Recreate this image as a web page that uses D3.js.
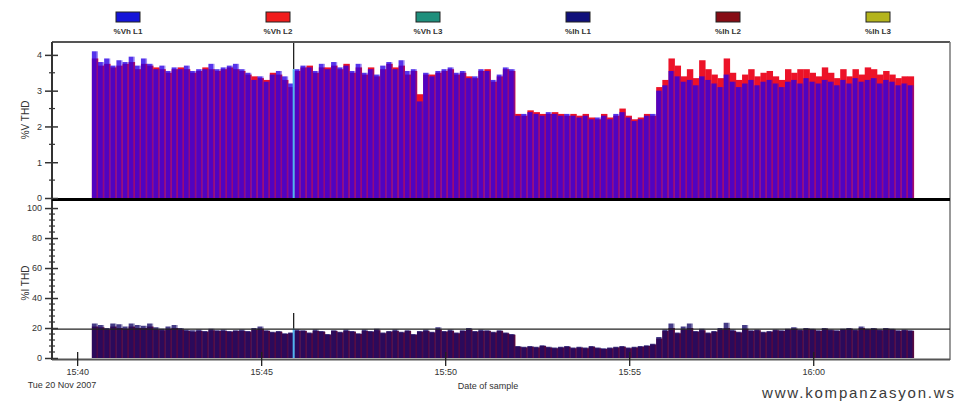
<!DOCTYPE html>
<html>
<head>
<meta charset="utf-8">
<script src="https://cdn.jsdelivr.net/npm/d3@7/dist/d3.min.js"></script>
<style>
  body { margin: 0; background: #fff; }
  svg { display: block; font-family: "Liberation Sans", Arial, sans-serif; }
</style>
</head>
<body>
<svg></svg>
<script>
// legend
let legendNames = ["%Vh L1", "%Vh L2", "%Vh L3", "%Ih L1", "%Ih L2", "%Ih L3"]
let legendColors = ["#1414d8", "#f01c1c", "#1f8f7c", "#10107a", "#860c14", "#b4b41c"]

// samples every 10 s starting at 15:40:24
let startTime = "15:40:24"
let stepSec = 10

let vhL1 = [4.1,3.8,3.9,3.7,3.85,3.8,3.95,3.7,3.9,3.75,3.6,3.7,3.55,3.65,3.6,3.7,3.55,3.6,3.6,3.75,3.6,3.65,3.7,3.75,3.6,3.5,3.3,3.4,3.25,3.45,3.55,3.4,3.2,
  3.6,3.7,3.65,3.55,3.75,3.6,3.8,3.65,3.7,3.55,3.75,3.5,3.6,3.45,3.7,3.8,3.6,3.85,3.55,3.6,2.7,3.5,3.4,3.55,3.6,3.65,3.5,3.55,3.35,3.4,3.6,3.55,3.3,3.45,3.65,3.6,
  2.3,2.35,2.4,2.35,2.3,2.4,2.35,2.3,2.35,2.3,2.25,2.3,2.2,2.25,2.3,2.2,2.35,2.4,2.25,2.15,2.2,2.3,2.35,
  3.0,3.15,3.55,3.4,3.25,3.3,3.15,3.4,3.3,3.2,3.1,3.45,3.25,3.1,3.2,3.3,3.15,3.25,3.3,3.2,3.1,3.25,3.3,3.2,3.35,3.25,3.2,3.3,3.25,3.15,3.3,3.2,3.35,3.25,3.3,3.35,3.2,3.3,3.25,3.15,3.2,3.15]

let vhL2 = [3.9,3.7,3.75,3.65,3.7,3.75,3.8,3.6,3.75,3.7,3.65,3.6,3.5,3.6,3.65,3.6,3.5,3.55,3.65,3.6,3.55,3.6,3.65,3.6,3.55,3.45,3.4,3.35,3.3,3.5,3.45,3.3,3.1,
  3.55,3.65,3.7,3.5,3.65,3.65,3.7,3.6,3.75,3.5,3.65,3.45,3.65,3.4,3.6,3.75,3.65,3.7,3.45,3.55,2.9,3.45,3.45,3.5,3.55,3.6,3.45,3.5,3.4,3.35,3.55,3.6,3.25,3.4,3.6,3.55,
  2.35,2.3,2.45,2.4,2.35,2.35,2.4,2.35,2.3,2.35,2.3,2.35,2.25,2.2,2.35,2.25,2.3,2.5,2.3,2.2,2.25,2.35,2.3,
  3.1,3.3,3.9,3.7,3.4,3.6,3.35,3.85,3.6,3.45,3.35,3.9,3.5,3.3,3.45,3.6,3.4,3.5,3.55,3.4,3.3,3.6,3.5,3.6,3.6,3.5,3.4,3.65,3.5,3.35,3.6,3.4,3.6,3.45,3.65,3.6,3.45,3.55,3.45,3.35,3.4,3.4]

let ihL1 = [23,22,20,23,22.5,21,23,22,21.5,23,20.5,19.5,21,22,20,19,18.5,19,18,19.5,18.5,19,18,18.5,19,18,20,21,18.5,17.5,18,16.5,17,
  19,18.5,17,19,18,16,18.5,17.5,19,18,16.5,19,18,19.5,17,18,19,17.5,18.5,16,18,19,17.5,20.5,18,19,17,18.5,20,18,19,18.5,17.5,18.5,17,16,
  8,7.5,8,7.5,8.5,7.5,7,7.5,8,7,7.5,7,8,7,6.5,7,7.5,8,7,7.5,8,8.5,9.5,
  14,19,23,17,21,23,18,19.5,17,18,20,23.5,19,17.5,22,18.5,19,17.5,18,19,18.5,19.5,20.5,19,20,19.5,18.5,20,19,18.5,19.5,20,19,21,19.5,20,19,20,19.5,18.5,19,18.5]

let ihL2 = [21,20.5,19,21,20,19.5,21,20,20,21,19,18.5,19.5,20,19,18,17.5,18,17.5,18.5,18,18,17.5,18,18,17.5,19,19.5,18,17,17.5,16,16.5,
  18,18,16.5,18,17.5,15.5,18,17,18,17.5,16,18,17.5,18.5,16.5,17.5,18,17,18,15.5,17.5,18,17,19,17.5,18,16.5,18,19,17.5,18,18,17,18,16.5,15.5,
  7.5,7,7.5,7,8,7,6.5,7,7.5,6.5,7,6.5,7.5,6.5,6,6.5,7,7.5,6.5,7,7.5,8,9,
  13,18,20,16.5,19,20,17.5,18.5,16.5,17.5,19,20,18,17,19.5,18,18.5,17,17.5,18.5,18,19,19.5,18.5,19.5,19,18,19.5,18.5,18,19,19.5,18.5,20,19,19.5,18.5,19.5,19,18,18.5,18]

// event marker
let markerTimes = ["15:45:53"]
let markerVh = [3.6]
let markerIh = [19.5]

let ihLimit = 19.3

let xTickLabels = ["15:40", "15:45", "15:50", "15:55", "16:00"]
let vTicks = [0, 1, 2, 3, 4]
let iTicks = [0, 20, 40, 60, 80, 100]

let width = 955
let height = 403
let left = 52
let right = 950

let svg = d3.select("svg")
let parse = d3.timeParse("%H:%M:%S")
let xScale, yTop, yBot, times

let drawCanvas = () => {
  svg.attr("width", width).attr("height", height)
}

let generateScales = () => {
  let t0 = parse(startTime).getTime()
  times = vhL1.map((d, i) => new Date(t0 + i * stepSec * 1000))

  xScale = d3.scaleTime()
             .domain([parse("15:39:19"), parse("16:03:43")])
             .range([left, right])

  yTop = d3.scaleLinear().domain([0, 4.36]).range([198, 42])
  yBot = d3.scaleLinear().domain([0, 104.7]).range([358, 201])
}

let drawLegend = () => {
  let g = svg.append("g")
  legendNames.forEach((name, i) => {
    let cx = 128 + i * 150
    g.append("rect")
     .attr("x", cx - 12).attr("y", 12)
     .attr("width", 24).attr("height", 10)
     .attr("fill", legendColors[i])
     .attr("stroke", "#222").attr("stroke-width", 1)
    g.append("text")
     .attr("x", cx).attr("y", 34)
     .attr("text-anchor", "middle")
     .style("font-size", "8px")
     .style("font-weight", "bold")
     .attr("fill", "#333")
     .text(name)
  })
}

let drawBars = (yScale, s1, s2, c1, c2) => {
  let g = svg.append("g")
  let base = yScale(0)
  times.forEach((t, i) => {
    let x0 = xScale(t)
    let w = xScale(new Date(t.getTime() + stepSec * 1000)) - x0
    // L2 behind
    g.append("rect")
     .attr("x", x0).attr("y", yScale(s2[i]))
     .attr("width", w + 0.3).attr("height", base - yScale(s2[i]))
     .attr("fill", c2)
    // L1 in front, mostly opaque
    g.append("rect")
     .attr("x", x0).attr("y", yScale(s1[i]))
     .attr("width", w - 1.3).attr("height", base - yScale(s1[i]))
     .attr("fill", c1).attr("fill-opacity", 0.8)
    g.append("rect")
     .attr("x", x0 + w - 1.3).attr("y", yScale(s1[i]))
     .attr("width", 1.3).attr("height", base - yScale(s1[i]))
     .attr("fill", c1).attr("fill-opacity", 0.45)
  })
}

let drawMarkers = () => {
  markerTimes.forEach((m, i) => {
    let x = xScale(parse(m))
    svg.append("line")
       .attr("x1", x).attr("x2", x)
       .attr("y1", yTop(4.36)).attr("y2", yTop(markerVh[i]))
       .attr("stroke", "#111").attr("stroke-width", 1.2)
    svg.append("rect")
       .attr("x", x - 1).attr("y", yTop(markerVh[i]))
       .attr("width", 2).attr("height", yTop(0) - yTop(markerVh[i]))
       .attr("fill", "#4fb4f0")
    svg.append("line")
       .attr("x1", x).attr("x2", x)
       .attr("y1", yBot(30)).attr("y2", yBot(markerIh[i]))
       .attr("stroke", "#111").attr("stroke-width", 1.2)
    svg.append("rect")
       .attr("x", x - 1).attr("y", yBot(markerIh[i]))
       .attr("width", 2).attr("height", yBot(0) - yBot(markerIh[i]))
       .attr("fill", "#4fb4f0")
  })
}

let drawAxes = () => {
  // frame
  svg.append("line").attr("x1", left).attr("x2", right).attr("y1", 42).attr("y2", 42)
     .attr("stroke", "#555").attr("stroke-width", 2)
  svg.append("line").attr("x1", right).attr("x2", right).attr("y1", 42).attr("y2", 360)
     .attr("stroke", "#777").attr("stroke-width", 1.5)
  svg.append("line").attr("x1", left).attr("x2", left).attr("y1", 42).attr("y2", 360)
     .attr("stroke", "#333").attr("stroke-width", 2)
  svg.append("line").attr("x1", left).attr("x2", right).attr("y1", 199.5).attr("y2", 199.5)
     .attr("stroke", "#000").attr("stroke-width", 3)
  svg.append("line").attr("x1", left).attr("x2", right).attr("y1", 359.5).attr("y2", 359.5)
     .attr("stroke", "#555").attr("stroke-width", 2)

  // limit line on %I THD
  svg.append("line").attr("x1", left).attr("x2", right)
     .attr("y1", yBot(ihLimit)).attr("y2", yBot(ihLimit))
     .attr("stroke", "#222").attr("stroke-width", 1.2)

  // y axis top
  let yAxisTop = d3.axisLeft(yTop).tickValues(vTicks).tickFormat(d3.format("d"))
                   .tickSizeInner(7).tickSizeOuter(0).tickPadding(3)
  let gt = svg.append("g").attr("transform", "translate(" + left + ",0)").call(yAxisTop)
  gt.select(".domain").remove()
  gt.selectAll(".tick line").attr("x2", -7).attr("x1", 6).attr("stroke", "#333").attr("stroke-width", 1.5)
  gt.selectAll(".tick text").style("font-size", "9px").attr("fill", "#333")
  svg.append("g").selectAll("line")
     .data(d3.range(0.5, 4.3, 1))
     .enter().append("line")
     .attr("x1", left - 3).attr("x2", left + 3)
     .attr("y1", d => yTop(d)).attr("y2", d => yTop(d))
     .attr("stroke", "#333").attr("stroke-width", 1.2)

  // y axis bottom
  let yAxisBot = d3.axisLeft(yBot).tickValues(iTicks).tickFormat(d3.format("d"))
                   .tickSizeInner(7).tickSizeOuter(0).tickPadding(3)
  let gb = svg.append("g").attr("transform", "translate(" + left + ",0)").call(yAxisBot)
  gb.select(".domain").remove()
  gb.selectAll(".tick line").attr("x2", -7).attr("x1", 6).attr("stroke", "#333").attr("stroke-width", 1.5)
  gb.selectAll(".tick text").style("font-size", "9px").attr("fill", "#333")
  svg.append("g").selectAll("line")
     .data(d3.range(0, 101, 4).filter(d => d % 20 != 0))
     .enter().append("line")
     .attr("x1", left - 3).attr("x2", left + 3)
     .attr("y1", d => yBot(d)).attr("y2", d => yBot(d))
     .attr("stroke", "#333").attr("stroke-width", 1.2)

  // x axis
  let parseHM = d3.timeParse("%H:%M")
  let xAxis = d3.axisBottom(xScale)
                .tickValues(xTickLabels.map(parseHM))
                .tickFormat(d3.timeFormat("%H:%M"))
                .tickSizeInner(6).tickSizeOuter(0).tickPadding(3)
  let gx = svg.append("g").attr("transform", "translate(0,360)").call(xAxis)
  gx.select(".domain").remove()
  gx.selectAll(".tick line").attr("y1", -8).attr("stroke", "#222").attr("stroke-width", 1.3)
  gx.selectAll(".tick text").style("font-size", "9px").attr("fill", "#333")

  svg.append("text").attr("x", 62).attr("y", 388)
     .attr("text-anchor", "middle").style("font-size", "9px").attr("fill", "#333")
     .text("Tue 20 Nov 2007")
  svg.append("text").attr("x", 488).attr("y", 389)
     .attr("text-anchor", "middle").style("font-size", "9px").attr("fill", "#333")
     .text("Date of sample")

  svg.append("text")
     .attr("transform", "translate(29,120) rotate(-90)")
     .attr("text-anchor", "middle").style("font-size", "10px").attr("fill", "#333")
     .text("%V THD")
  svg.append("text")
     .attr("transform", "translate(29,283) rotate(-90)")
     .attr("text-anchor", "middle").style("font-size", "10px").attr("fill", "#333")
     .text("%I THD")

  svg.append("text").attr("x", 762).attr("y", 398)
     .attr("textLength", 192).attr("lengthAdjust", "spacing")
     .style("font-size", "15px").attr("fill", "#3a3a3a")
     .text("www.kompanzasyon.ws")
}

drawCanvas()
generateScales()
drawLegend()
drawBars(yTop, vhL1, vhL2, "#2a00e6", "#ec1228")
drawBars(yBot, ihL1, ihL2, "#160a68", "#7e0a2a")
drawMarkers()
drawAxes()
</script>
</body>
</html>
